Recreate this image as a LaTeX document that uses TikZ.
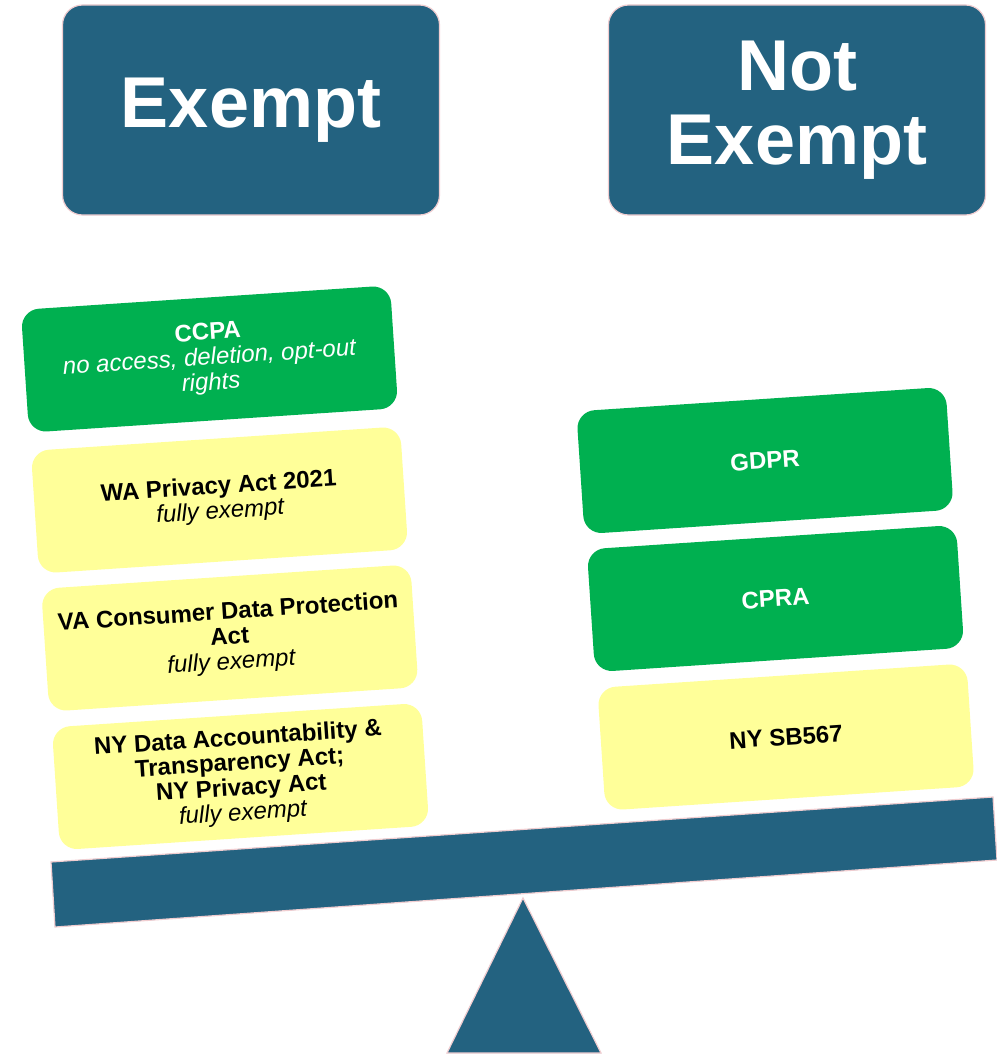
\documentclass[tikz,border=0pt]{standalone}
\usepackage{fontspec}
\setmainfont{Liberation Sans}
\definecolor{seesawblue}{RGB}{35,98,128}
\definecolor{lawgreen}{RGB}{0,176,80}
\definecolor{lawyellow}{RGB}{255,255,153}
\definecolor{edgepink}{RGB}{240,205,208}
\begin{document}
\begin{tikzpicture}[x=1pt,y=-1pt,
  header/.style={fill=seesawblue,draw=edgepink,line width=1.2pt,rounded corners=20pt,
    minimum width=377pt,minimum height=210pt,inner sep=0pt,text=white,align=center,
    font=\fontsize{72}{74}\selectfont\bfseries},
  lawbox/.style={rounded corners=18pt,minimum width=370pt,minimum height=123pt,
    inner sep=0pt,align=center,rotate=3.8,font=\fontsize{24}{25}\selectfont},
  greenbox/.style={lawbox,fill=lawgreen,text=white},
  yellowbox/.style={lawbox,fill=lawyellow,text=black}]
\useasboundingbox [fill=white] (0,0) rectangle (996,1054);

\node [header] (exempt) at (251,110) {\raisebox{-4pt}{Exempt}};
\node [header] (notexempt) at (797,110) {Not\\Exempt};

\node [greenbox] (ccpa) at (209.5,359) {\textbf{CCPA}\\\itshape no access, deletion, opt-out\\\itshape rights};
\node [yellowbox] (wa) at (219.5,500) {\textbf{WA Privacy Act 2021}\\\itshape fully exempt};
\node [yellowbox] (va) at (229.8,638) {\textbf{VA Consumer Data Protection}\\\textbf{Act}\\\itshape fully exempt};
\node [yellowbox] (ny) at (240.5,776.5) {\textbf{NY Data Accountability \&}\\\textbf{Transparency Act;}\\\textbf{NY Privacy Act}\\\itshape fully exempt};

\node [greenbox] (gdpr) at (765,460.5) {\textbf{GDPR}};
\node [greenbox] (cpra) at (775.5,598.5) {\textbf{CPRA}};
\node [yellowbox] (nysb) at (786,737) {\textbf{NY SB567}};

\draw [fill=seesawblue,draw=edgepink,line width=1.2pt] (51,862) -- (993,797) -- (997,860) -- (55,927) -- cycle;
\draw [fill=seesawblue,draw=edgepink,line width=1.2pt] (523,898) -- (601,1053) -- (447,1053) -- cycle;
\end{tikzpicture}
\end{document}
